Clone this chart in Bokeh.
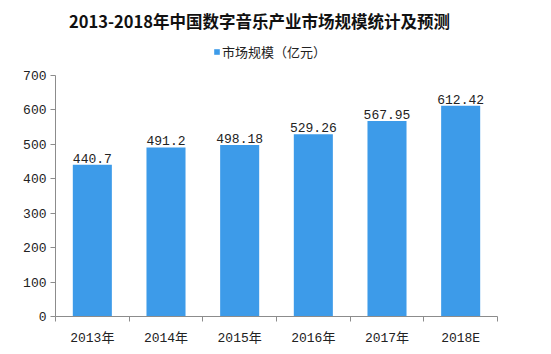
from bokeh.plotting import figure
from bokeh.models import ColumnDataSource, FixedTicker, Legend, LegendItem, Range1d, Label
from bokeh.core.properties import value
from bokeh.embed import file_html
from bokeh.resources import INLINE

categories = ["2013年", "2014年", "2015年", "2016年", "2017年", "2018E"]
values = [440.7, 491.2, 498.18, 529.26, 567.95, 612.42]
value_labels = ["440.7", "491.2", "498.18", "529.26", "567.95", "612.42"]
y_ticks = [0, 100, 200, 300, 400, 500, 600, 700]
title_text = "2013-2018年中国数字音乐产业市场规模统计及预测"
series_name = "市场规模（亿元）"

BAR = "#3d9be9"
AX = "#8c8c8c"
MONO = "Liberation Mono, Noto Sans CJK SC"

n = len(categories)
y_max_axis = 700
# frame: left 55, bottom 316 (from top); axis part 442 px wide, 241 px tall
x_end = n * (551 - 55) / 442.0
y_end = y_max_axis * 316 / 241.0

xs = [i + 0.5 for i in range(n)]
src = ColumnDataSource(dict(x=xs, top=values, lab=value_labels))

p = figure(width=551, height=354, output_backend="svg", toolbar_location=None,
           x_range=Range1d(0, x_end), y_range=Range1d(0, y_end),
           min_border_left=55, min_border_right=0, min_border_top=0, min_border_bottom=38)
p.outline_line_color = None
p.grid.visible = False
p.background_fill_color = "white"
p.border_fill_color = "white"

r = p.vbar(x="x", top="top", width=0.53, source=src, fill_color=BAR, line_color=None)
p.text(x="x", y="top", text="lab", source=src, text_align="center", text_baseline="bottom",
       y_offset=-2, text_font=value(MONO), text_font_size="13px", text_color="#222222")

xa = p.xaxis[0]
xa.bounds = (0, n)
xa.ticker = FixedTicker(ticks=xs, minor_ticks=list(range(n + 1)))
xa.major_label_overrides = {x: c for x, c in zip(xs, categories)}
xa.major_tick_line_color = None
xa.minor_tick_line_color = AX
xa.minor_tick_out = 5
xa.minor_tick_in = 0
xa.axis_line_color = AX
xa.major_label_text_font = MONO
xa.major_label_text_font_size = "13px"
xa.major_label_text_color = "#222222"
xa.major_label_standoff = 8

ya = p.yaxis[0]
ya.bounds = (0, y_max_axis)
ya.ticker = FixedTicker(ticks=y_ticks, minor_ticks=[])
ya.major_tick_line_color = AX
ya.major_tick_out = 5
ya.major_tick_in = 0
ya.axis_line_color = AX
ya.major_label_text_font = MONO
ya.major_label_text_font_size = "13px"
ya.major_label_text_color = "#222222"
ya.major_label_standoff = 4

# title position in data units (canvas px 259, 20)
p.add_layout(Label(x=(259 - 55) / 442.0 * n, y=(316 - 20) / 241.0 * y_max_axis, text=title_text,
                   text_align="center", text_baseline="middle", text_font="Noto Sans CJK SC",
                   text_font_style="bold", text_font_size="16.5px", text_color="#111111"))

legend = Legend(items=[LegendItem(label=series_name, renderers=[r])], location=(158, 255),
                orientation="horizontal", label_text_font="Noto Sans CJK SC",
                label_text_font_size="13px", label_text_color="#222222",
                glyph_width=7, glyph_height=7, label_standoff=2, padding=0, margin=0,
                border_line_color=None, background_fill_alpha=0)
p.add_layout(legend)

open("out.html", "w").write(file_html(p, INLINE))
